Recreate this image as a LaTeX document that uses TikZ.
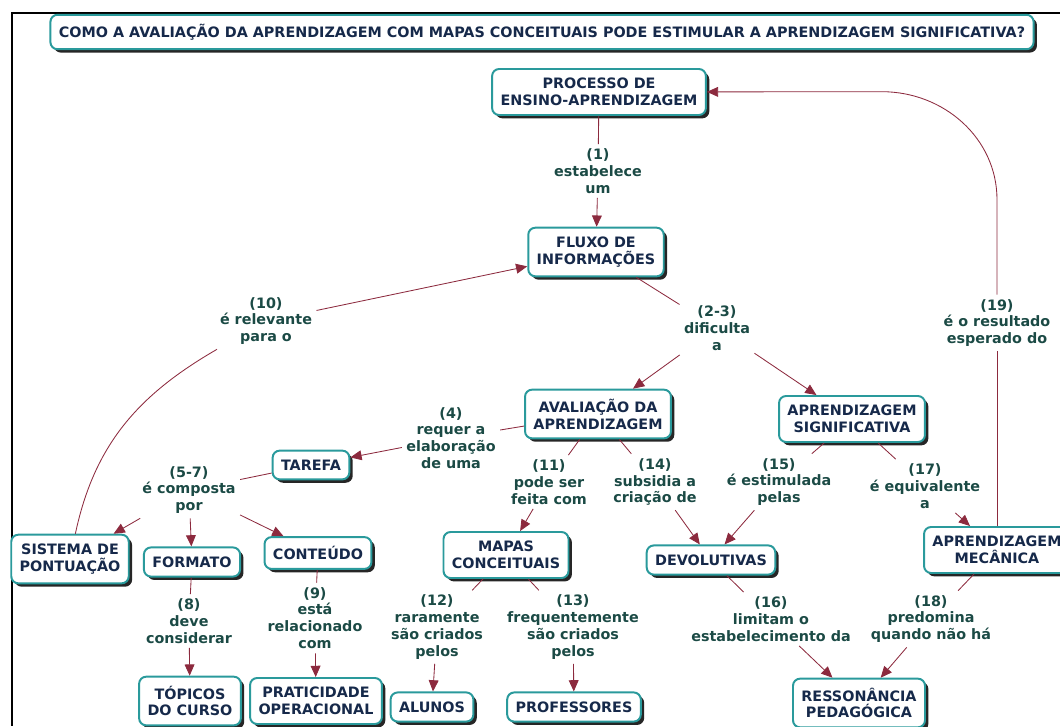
\documentclass[tikz,border=0pt]{standalone}
\usepackage{fontspec}
\setmainfont{DejaVu Sans}
\usetikzlibrary{arrows.meta,shadows}
\definecolor{cmapteal}{HTML}{2A9A9C}
\definecolor{cmapnavy}{HTML}{16294A}
\definecolor{cmapgreen}{HTML}{1B4A45}
\definecolor{cmapred}{HTML}{8C2A3E}

\begin{document}
\begin{tikzpicture}[x=0.025cm,y=-0.025cm,
  concept/.style={draw=cmapteal, line width=1.4pt, rounded corners=5pt,
    fill=white, align=center, text=cmapnavy,
    font=\bfseries\fontsize{10.2}{12}\selectfont,
    inner xsep=6pt, inner ysep=6.5pt,
    drop shadow={shadow xshift=2.4pt, shadow yshift=-2.4pt, fill=black!85, opacity=1}},
  phrase/.style={align=center, text=cmapgreen,
    font=\bfseries\fontsize{10.2}{12}\selectfont, inner sep=3pt},
  link/.style={draw=cmapred, line width=0.6pt},
  arr/.style={link, -{Triangle[length=8pt,width=7pt]}}]
  \useasboundingbox (0,0) rectangle (1060,726);
  \draw[line width=2pt] (1060,13) -| (12,726);

  % concepts
  \node[concept] (titulo) at (542,32) {COMO A AVALIAÇÃO DA APRENDIZAGEM COM MAPAS CONCEITUAIS PODE ESTIMULAR A APRENDIZAGEM SIGNIFICATIVA?};
  \node[concept] (proc) at (599,92) {PROCESSO DE\\ENSINO-APRENDIZAGEM};
  \node[concept] (fluxo) at (596,252) {FLUXO DE\\INFORMAÇÕES};
  \node[concept] (aval) at (598,414) {AVALIAÇÃO DA\\APRENDIZAGEM};
  \node[concept] (sig) at (852,419) {APRENDIZAGEM\\SIGNIFICATIVA};
  \node[concept] (tarefa) at (311,465) {TAREFA};
  \node[concept] (sist) at (70,559) {SISTEMA DE\\PONTUAÇÃO};
  \node[concept] (formato) at (192,562) {FORMATO};
  \node[concept] (conteudo) at (318,553) {CONTEÚDO};
  \node[concept] (mapas) at (506,555) {MAPAS\\CONCEITUAIS};
  \node[concept] (devol) at (711,560) {DEVOLUTIVAS};
  \node[concept] (mec) at (997,550) {APRENDIZAGEM\\MECÂNICA};
  \node[concept] (topicos) at (190,701) {TÓPICOS\\DO CURSO};
  \node[concept] (pratic) at (316,701) {PRATICIDADE\\OPERACIONAL};
  \node[concept] (alunos) at (432,707) {ALUNOS};
  \node[concept] (prof) at (574,707) {PROFESSORES};
  \node[concept] (resson) at (859,703) {RESSONÂNCIA\\PEDAGÓGICA};

  % linking phrases
  \node[phrase] (l1) at (598,171) {(1)\\estabelece\\um};
  \node[phrase] (l23) at (717,328) {(2-3)\\dificulta\\a};
  \node[phrase] (l10) at (266,321) {(10)\\é relevante\\para o};
  \node[phrase] (l19) at (997,323) {(19)\\é o resultado\\esperado do};
  \node[phrase] (l4) at (451,438) {(4)\\requer a\\elaboração\\de uma};
  \node[phrase] (l57) at (189,490) {(5-7)\\é composta\\por};
  \node[phrase] (l11) at (549,482) {(11)\\pode ser\\feita com};
  \node[phrase] (l14) at (655,482) {(14)\\subsidia a\\criação de};
  \node[phrase] (l15) at (779,482) {(15)\\é estimulada\\pelas};
  \node[phrase] (l17) at (925,486) {(17)\\é equivalente\\a};
  \node[phrase] (l8) at (189,621) {(8)\\deve\\considerar};
  \node[phrase] (l9) at (315,618) {(9)\\está\\relacionado\\com};
  \node[phrase] (l12) at (437,627) {(12)\\raramente\\são criados\\pelos};
  \node[phrase] (l13) at (573,627) {(13)\\frequentemente\\são criados\\pelos};
  \node[phrase] (l16) at (771,619) {(16)\\limitam o\\estabelecimento da};
  \node[phrase] (l18) at (931,619) {(18)\\predomina\\quando não há};

  % links
  \draw[link] (proc) -- (l1);
  \draw[arr] (l1) -- (fluxo);
  \draw[link] (fluxo) -- (l23);
  \draw[arr] (l23) -- (aval);
  \draw[arr] (l23) -- (sig);
  \draw[link] (aval) -- (l4);
  \draw[arr] (l4) -- (tarefa);
  \draw[link] (tarefa) -- (l57);
  \draw[arr] (l57) -- (sist);
  \draw[arr] (l57) -- (formato);
  \draw[arr] (l57) -- (conteudo);
  \draw[link] (sist) to[out=78,in=210] (l10);
  \draw[arr] (l10) -- (fluxo);
  \draw[link] (formato) -- (l8);
  \draw[arr] (l8) -- (topicos);
  \draw[link] (conteudo) -- (l9);
  \draw[arr] (l9) -- (pratic);
  \draw[link] (aval) -- (l11);
  \draw[arr] (l11) -- (mapas);
  \draw[link] (aval) -- (l14);
  \draw[arr] (l14) -- (devol);
  \draw[link] (sig) -- (l15);
  \draw[arr] (l15) -- (devol);
  \draw[link] (sig) -- (l17);
  \draw[arr] (l17) -- (mec);
  \draw[link] (mapas) -- (l12);
  \draw[arr] (l12) -- (alunos);
  \draw[link] (mapas) -- (l13);
  \draw[arr] (l13) -- (prof);
  \draw[link] (devol) -- (l16);
  \draw[arr] (l16) -- (resson);
  \draw[link] (mec) -- (l18);
  \draw[arr] (l18) -- (resson);
  \draw[link] (mec) -- (l19);
  \draw[arr] (l19.north) -- ++(0,-95) to[out=90,in=0] ++(-115,-108) -- (proc);
\end{tikzpicture}
\end{document}
